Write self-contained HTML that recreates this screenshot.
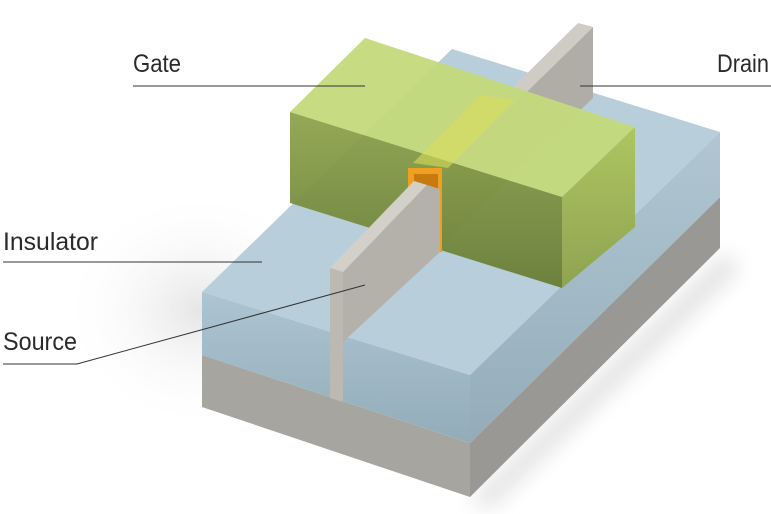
<!DOCTYPE html>
<html><head><meta charset="utf-8"><style>
html,body{margin:0;padding:0;background:#fff;}
svg{display:block}
text{font-family:"Liberation Sans",sans-serif;font-size:25px;fill:#2a2a2a;}
</style></head><body>
<svg width="771" height="514" viewBox="0 0 771 514" xmlns="http://www.w3.org/2000/svg">
<defs>
<radialGradient id="sh" cx="0.5" cy="0.5" r="0.5">
<stop offset="0" stop-color="#d4d4d4" stop-opacity="0.6"/><stop offset="1" stop-color="#fff" stop-opacity="0"/>
</radialGradient>
<filter id="bl"><feGaussianBlur stdDeviation="10"/></filter>
<linearGradient id="gf" x1="0" y1="0" x2="0" y2="1">
<stop offset="0" stop-color="#8ea44d"/><stop offset="1" stop-color="#697d36"/>
</linearGradient>
<linearGradient id="gr" x1="0" y1="0" x2="0" y2="1">
<stop offset="0" stop-color="#adc55a"/><stop offset="1" stop-color="#8da14a"/>
</linearGradient>
<linearGradient id="bf" x1="0" y1="0" x2="0" y2="1">
<stop offset="0" stop-color="#adc5d2"/><stop offset="1" stop-color="#93acb9"/>
</linearGradient>
<linearGradient id="br" x1="0" y1="0" x2="0" y2="1">
<stop offset="0" stop-color="#b0c7d3"/><stop offset="1" stop-color="#94acb9"/>
</linearGradient>
</defs>
<ellipse cx="200" cy="310" rx="140" ry="120" fill="url(#sh)"/>
<polygon points="470,500 724,252 740,270 490,510" fill="#e4e4e4" filter="url(#bl)"/>
<!-- substrate -->
<polygon points="202,355 470,443 470,497 202,407" fill="#a7a5a0"/>
<polygon points="470,443 720,197 720,248 470,497" fill="#9a9894"/>
<!-- blue layer -->
<polygon points="202,292 452,49 720,132 470,375" fill="#b8cfdb"/>
<polygon points="202,292 470,375 470,443 202,355" fill="url(#bf)"/>
<polygon points="470,375 720,132 720,197 470,443" fill="url(#br)"/>
<!-- fin front gap -->
<polygon points="330,268 343,272 343,402 330,398" fill="#aeaba6"/>
<!-- fin right face -->
<polygon points="343,272 593,27 593,98 343,340" fill="#b0ada7"/>
<polygon points="330,268 578,23 593,27 343,272" fill="#cfccc6"/>
<!-- gate -->
<polygon points="290,112 365,38 635,127 562,197" fill="#c3d97b" fill-opacity="0.95"/>
<polygon points="290,112 562,197 562,288 290,203" fill="url(#gf)" fill-opacity="0.95"/>
<polygon points="562,197 635,127 635,227 562,288" fill="url(#gr)" fill-opacity="0.95"/>
<polygon points="480,95 515,100 448,168 413,163" fill="#d8dc5a" fill-opacity="0.6"/>
<!-- orange channel -->
<rect x="408" y="168" width="34" height="84" fill="#f0a020"/>
<rect x="414" y="174" width="24" height="78" fill="#c77a10"/>
<!-- fin front part -->
<polygon points="343,272 427,185 440,189 440,252 343,342" fill="#b4b1ab"/>
<polygon points="330,268 414,181 427,185 343,272" fill="#d3d0ca"/>
<polygon points="330,268 343,272 343,402 330,398" fill="#bcb9b3"/>
<!-- labels -->
<text x="133" y="72" textLength="48" lengthAdjust="spacingAndGlyphs">Gate</text>
<line x1="133" y1="86" x2="365" y2="86" stroke="#333" stroke-width="1"/>
<text x="717" y="72" textLength="52" lengthAdjust="spacingAndGlyphs">Drain</text>
<line x1="580" y1="86" x2="771" y2="86" stroke="#333" stroke-width="1"/>
<text x="3" y="250" textLength="95" lengthAdjust="spacingAndGlyphs">Insulator</text>
<line x1="3" y1="262" x2="262" y2="262" stroke="#333" stroke-width="1"/>
<text x="3" y="350" textLength="74" lengthAdjust="spacingAndGlyphs">Source</text>
<polyline points="3,364 77,364 365,285" fill="none" stroke="#333" stroke-width="1"/>
</svg>
</body></html>
